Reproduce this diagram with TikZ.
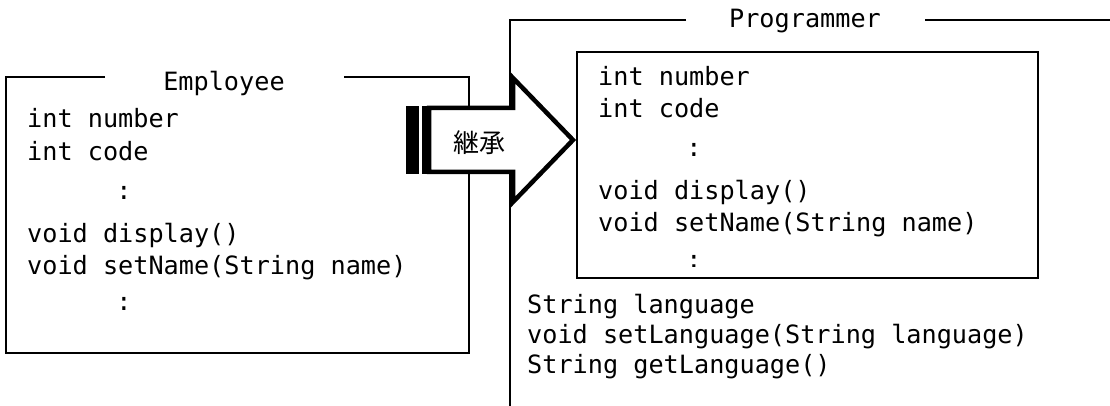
\documentclass[tikz,border=0pt]{standalone}
\usepackage{fontspec}
\setmonofont{DejaVu Sans Mono}
\newfontfamily\cjkjp{Noto Sans CJK JP}
\newcommand\codefont{\fontsize{25.2pt}{30pt}\selectfont\ttfamily}
\tikzset{
  code/.style={anchor=base west, inner sep=0pt, font=\codefont},
  dots/.style={anchor=base, inner sep=0pt, font=\codefont},
  title/.style={anchor=base, inner sep=0pt, font=\codefont},
  frame/.style={draw=black, line width=1.6pt},
  bigarrow/.style={draw=black, fill=white, line width=4.5pt, miter limit=10},
  stripe/.style={fill=black},
}
\begin{document}
\begin{tikzpicture}[x=1pt,y=-1pt]
\useasboundingbox (0,0) rectangle (1110,406);
\fill[white] (0,0) rectangle (1110,406);

% Employee frame
\coordinate (eTL) at (6,77);
\coordinate (eBR) at (469,353);
\draw[frame] (105,77) -- (eTL) -- (6,353) -- (eBR) -- (469,77) -- (344,77);
\node[title] (etitle) at (224,91) {Employee};
\node[code] (e1) at (27,128) {int number};
\node[code] (e2) at (27,161) {int code};
\node[dots] (e3) at (124,199) {:};
\node[code] (e4) at (27,242) {void display()};
\node[code] (e5) at (27,274) {void setName(String name)};
\node[dots] (e6) at (124,310) {:};

% Programmer frame
\draw[frame] (686,20) -- (510,20) -- (510,406);
\draw[frame] (925,20) -- (1110,20);
\node[title] (ptitle) at (805,28) {Programmer};

% inner box
\node[draw=black, line width=1.6pt, minimum width=461pt, minimum height=226pt, inner sep=0pt, anchor=north west] (inner) at (576,51) {};
\node[code] (p1) at (598,86) {int number};
\node[code] (p2) at (598,118) {int code};
\node[dots] (p3) at (694,157) {:};
\node[code] (p4) at (598,200) {void display()};
\node[code] (p5) at (598,231) {void setName(String name)};
\begin{scope}
\clip (600,240) rectangle (800,266);
\node[dots] (p6) at (694,268) {:};
\end{scope}

\node[code] (q1) at (527,313) {String language};
\node[code] (q2) at (527,343) {void setLanguage(String language)};
\node[code] (q3) at (527,373) {String getLanguage()};

% inheritance arrow
\fill[stripe] (406,105.7) rectangle (419,174.3);
\fill[stripe] (422,105.7) rectangle (431,174.3);
\draw[bigarrow] (429,108) -- (513,108) -- (513,78) -- (573,140) -- (513,202) -- (513,172) -- (429,172) -- cycle;
\node[inner sep=0pt, font=\cjkjp\fontsize{26pt}{30pt}\selectfont] (inh) at (479,143) {継承};
\end{tikzpicture}
\end{document}
